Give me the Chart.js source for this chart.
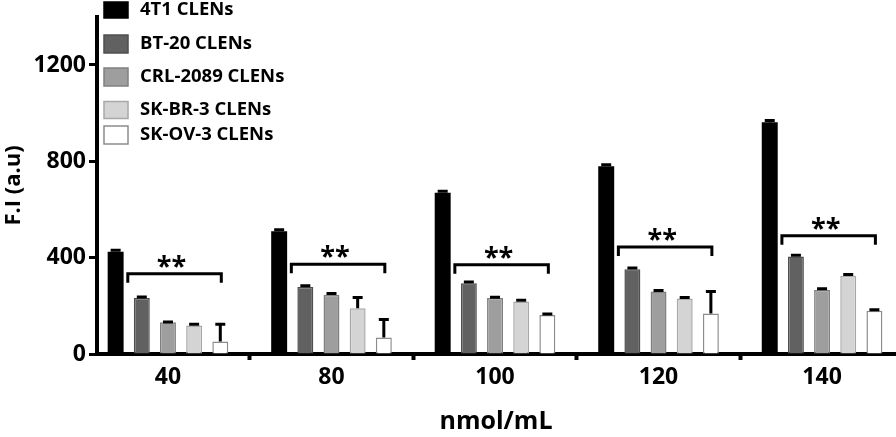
<!DOCTYPE html>
<html lang="en">
<head>
    <meta charset="UTF-8">
    <title>F.I by concentration</title>
    <script src="https://cdn.jsdelivr.net/npm/chart.js"></script>
    <style>
        body {
            margin: 0;
            background: #ffffff;
        }

        .chart-box {
            width: 896px;
            height: 437px;
            position: relative;
        }
    </style>
</head>
<body>
<div class="chart-box">
    <canvas id="fi-chart"></canvas>
</div>

<script>
    // concentrations (nmol/mL)
    const categories = ['40', '80', '100', '120', '140'];
    const yTicks = [0, 400, 800, 1200];

    const seriesNames = ['4T1 CLENs', 'BT-20 CLENs', 'CRL-2089 CLENs', 'SK-BR-3 CLENs', 'SK-OV-3 CLENs'];

    const t41Values = [425, 510, 670, 780, 962];
    const bt20Values = [232, 278, 294, 352, 405];
    const crlValues = [132, 246, 232, 259, 266];
    const skbrValues = [118, 190, 218, 230, 325];
    const skovValues = [52, 68, 162, 168, 180];

    const t41Err = [6, 6, 6, 6, 7];
    const bt20Err = [5, 5, 5, 5, 5];
    const crlErr = [1, 5, 4, 5, 5];
    const skbrErr = [5, 45, 5, 5, 5];
    const skovErr = [72, 75, 4, 92, 4];

    // significance brackets (BT-20 .. SK-OV), height in F.I units
    const bracketValues = [333, 373, 371, 444, 491];
    const bracketLabels = ['**', '**', '**', '**', '**'];

    const fills = ['#000000', '#616161', '#9e9e9e', '#d4d4d4', '#ffffff'];
    const borders = ['#000000', '#4f4f4f', '#808080', '#a8a8a8', '#8c8c8c'];

    const allValues = [t41Values, bt20Values, crlValues, skbrValues, skovValues];
    const allErrors = [t41Err, bt20Err, crlErr, skbrErr, skovErr];

    const FONT = '"Open Sans", "DejaVu Sans", sans-serif';

    const datasets = seriesNames.map((name, s) => ({
        label: name,
        data: allValues[s].map((v, i) => ({x: i, y: v})),
        backgroundColor: fills[s],
        borderColor: borders[s],
        borderWidth: s === 0 ? 0 : 1.5,
        categoryPercentage: 0.8,
        barPercentage: 0.61
    }));

    const errorBars = {
        id: 'errorBars',
        afterDatasetsDraw(chart) {
            const ctx = chart.ctx;
            const y = chart.scales.y;
            ctx.save();
            ctx.strokeStyle = '#000';
            ctx.lineWidth = 3;
            allErrors.forEach((errs, s) => {
                const meta = chart.getDatasetMeta(s);
                meta.data.forEach((bar, i) => {
                    const top = y.getPixelForValue(allValues[s][i]);
                    const hi = y.getPixelForValue(allValues[s][i] + errs[i]);
                    ctx.beginPath();
                    ctx.moveTo(bar.x, top);
                    ctx.lineTo(bar.x, hi);
                    ctx.moveTo(bar.x - 5, hi);
                    ctx.lineTo(bar.x + 5, hi);
                    ctx.stroke();
                });
            });
            ctx.restore();
        }
    };

    const brackets = {
        id: 'brackets',
        afterDatasetsDraw(chart) {
            const ctx = chart.ctx;
            const y = chart.scales.y;
            const first = chart.getDatasetMeta(1).data;
            const last = chart.getDatasetMeta(4).data;
            ctx.save();
            ctx.strokeStyle = '#000';
            ctx.fillStyle = '#000';
            ctx.lineWidth = 3;
            ctx.font = 'bold 27px ' + FONT;
            ctx.textAlign = 'center';
            ctx.textBaseline = 'alphabetic';
            bracketValues.forEach((v, i) => {
                const x0 = first[i].x - 14;
                const x1 = last[i].x + 1;
                const py = y.getPixelForValue(v);
                ctx.beginPath();
                ctx.moveTo(x0, py + 9);
                ctx.lineTo(x0, py);
                ctx.lineTo(x1, py);
                ctx.lineTo(x1, py + 9);
                ctx.stroke();
                ctx.fillText(bracketLabels[i], (x0 + x1) / 2 - 3, py + 1);
            });
            ctx.restore();
        }
    };

    const boxLegend = {
        id: 'boxLegend',
        afterDraw(chart) {
            const ctx = chart.ctx;
            const rows = [10, 44, 77, 110, 135];
            const heights = [16, 18, 18, 17, 18];
            ctx.save();
            ctx.font = 'bold 18.5px ' + FONT;
            ctx.textBaseline = 'middle';
            ctx.textAlign = 'left';
            seriesNames.forEach((name, s) => {
                const h = heights[s];
                ctx.fillStyle = fills[s];
                ctx.fillRect(104, rows[s] - h / 2, 24, h);
                ctx.strokeStyle = borders[s];
                ctx.lineWidth = 1.5;
                ctx.strokeRect(104, rows[s] - h / 2, 24, h);
                ctx.fillStyle = '#000';
                ctx.fillText(name, 140, rows[s]);
            });
            ctx.restore();
        }
    };

    new Chart(document.getElementById('fi-chart'), {
        type: 'bar',
        data: {datasets: datasets},
        plugins: [errorBars, brackets, boxLegend],
        options: {
            responsive: true,
            maintainAspectRatio: false,
            animation: false,
            layout: {padding: {top: 5, right: 1, left: 0, bottom: 0}},
            plugins: {
                legend: {display: false},
                tooltip: {enabled: false}
            },
            scales: {
                x: {
                    type: 'linear',
                    offset: false,
                    min: -0.434,
                    max: 4.446,
                    afterBuildTicks: (scale) => {
                        scale.ticks = categories.map((_, i) => ({value: i}));
                    },
                    afterFit: (scale) => {
                        scale.height = 83;
                    },
                    ticks: {
                        callback: (v) => categories[v],
                        color: '#000',
                        padding: 4,
                        maxRotation: 0,
                        font: {family: FONT, size: 23, weight: 'bold'}
                    },
                    grid: {
                        drawOnChartArea: false,
                        drawTicks: true,
                        tickLength: 6,
                        tickWidth: 4,
                        tickColor: '#000'
                    },
                    border: {display: true, color: '#000', width: 4},
                    title: {
                        display: true,
                        text: 'nmol/mL',
                        color: '#000',
                        padding: {top: 0, bottom: 0},
                        font: {family: FONT, size: 25, weight: 'bold'}
                    }
                },
                y: {
                    min: 0,
                    max: 1400,
                    afterBuildTicks: (scale) => {
                        scale.ticks = yTicks.map((v) => ({value: v}));
                    },
                    afterFit: (scale) => {
                        scale.width = 97;
                    },
                    ticks: {
                        callback: (v) => String(v),
                        color: '#000',
                        padding: 3,
                        font: {family: FONT, size: 23, weight: 'bold'}
                    },
                    grid: {
                        drawOnChartArea: false,
                        drawTicks: true,
                        tickLength: 8,
                        tickWidth: 3,
                        tickColor: '#000'
                    },
                    border: {display: true, color: '#000', width: 4},
                    title: {
                        display: true,
                        text: 'F.I (a.u)',
                        color: '#000',
                        padding: {top: 1, bottom: 0},
                        font: {family: FONT, size: 22, weight: 'bold'}
                    }
                }
            }
        }
    });
</script>
</body>
</html>
